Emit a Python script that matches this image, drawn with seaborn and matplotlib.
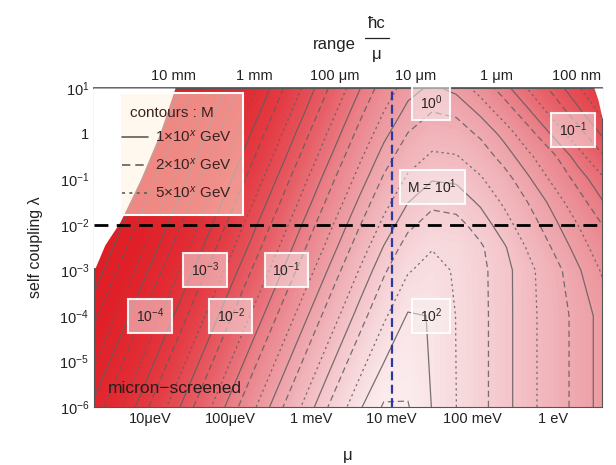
import numpy as np
import matplotlib
matplotlib.use("Agg")
import matplotlib.pyplot as plt
import seaborn as sns
from matplotlib.patches import Rectangle
from matplotlib.lines import Line2D

# grid nodes: log10(mu / eV) and log10(lambda)
log_mu = [-5.8, -4.6, -3.4, -2.8, -2.4, -2.1, -1.8, -1.5, -1.2, -0.9, -0.6, -0.3, 0.0, 0.3, 0.65]
log_lam = [-6, -4, -3, -2.5, -2, -1.5, -1, -0.5, 0, 0.5, 1]

# log10(M / GeV), one row per log_lam node
logM_rows = [
    [-4.11, -1.95, 0.21, 1.29, 1.96, 2.34, 2.32, 1.99, 1.70, 1.40, 1.10, 0.80, 0.50, 0.20, -0.15],
    [-4.97, -2.81, -0.65, 0.43, 1.14, 1.64, 2.03, 1.99, 1.69, 1.40, 1.10, 0.80, 0.50, 0.20, -0.15],
    [-5.40, -3.24, -1.08, 0.00, 0.72, 1.24, 1.67, 1.82, 1.66, 1.39, 1.10, 0.79, 0.45, 0.06, -0.39],
    [-5.62, -3.46, -1.30, -0.22, 0.50, 1.02, 1.46, 1.68, 1.59, 1.35, 1.03, 0.65, 0.27, -0.11, -0.56],
    [-5.83, -3.67, -1.51, -0.43, 0.28, 0.79, 1.22, 1.45, 1.41, 1.16, 0.83, 0.47, 0.09, -0.29, -0.75],
    [-6.05, -3.89, -1.73, -0.65, 0.06, 0.57, 0.99, 1.22, 1.17, 0.95, 0.64, 0.28, -0.10, -0.53, -1.03],
    [-6.26, -4.10, -1.94, -0.86, -0.16, 0.35, 0.76, 0.98, 0.95, 0.74, 0.44, 0.04, -0.38, -0.80, -1.30],
    [-6.48, -4.32, -2.16, -1.08, -0.37, 0.13, 0.53, 0.75, 0.72, 0.50, 0.16, -0.23, -0.63, -1.13, -1.72],
    [-6.69, -4.53, -2.37, -1.29, -0.59, -0.09, 0.31, 0.52, 0.47, 0.24, -0.11, -0.57, -1.06, -1.54, -2.11],
    [-6.91, -4.75, -2.59, -1.51, -0.80, -0.31, 0.09, 0.29, 0.23, -0.08, -0.50, -0.97, -1.45, -1.92, -2.46],
    [-7.12, -4.96, -2.80, -1.72, -1.02, -0.52, -0.12, 0.06, -0.09, -0.45, -0.89, -1.34, -1.80, -2.24, -2.76],
]

# excluded (white) corners
excl_left_mu = [-5.70, -5.68, -5.56, -5.37, -5.12, -4.88, -4.69]
excl_left_lam = [-2.94, -2.94, -2.44, -1.93, -1.01, 0.0, 1.0]
excl_right_mu = [0.509, 0.558, 0.61]
excl_right_lam = [1.0, 0.74, 0.34]

# axes ticks
mu_ticks = [-5, -4, -3, -2, -1, 0]
mu_labels = ["10μeV", "100μeV", "1 meV", "10 meV", "100 meV", "1 eV"]
range_m = [1e-2, 1e-3, 1e-4, 1e-5, 1e-6, 1e-7]
range_labels = ["10 mm", "1 mm", "100 μm", "10 μm", "1 μm", "100 nm"]
lam_ticks = [1, 0, -1, -2, -3, -4, -5, -6]
lam_labels = [r"$10^{1}$", "1", r"$10^{-1}$", r"$10^{-2}$", r"$10^{-3}$",
              r"$10^{-4}$", r"$10^{-5}$", r"$10^{-6}$"]

# in-plot contour labels
lab_text = [r"$10^{-4}$", r"$10^{-3}$", r"$10^{-2}$", r"$10^{-1}$", r"$10^{0}$",
            r"M = $10^{1}$", r"$10^{2}$", r"$10^{-1}$"]
lab_mu = [-5.0, -4.32, -4.0, -3.31, -1.51, -1.50, -1.51, 0.25]
lab_lam = [-4.0, -2.99, -4.0, -2.99, 0.67, -1.17, -4.0, 0.08]

HBARC = 1.97327e-7  # eV m

sns.set_theme(style="ticks")
plt.rcParams["font.family"] = ["Liberation Sans", "DejaVu Sans"]
plt.rcParams["mathtext.fontset"] = "custom"
plt.rcParams["mathtext.rm"] = "Liberation Sans"
plt.rcParams["mathtext.it"] = "Liberation Sans:italic"
plt.rcParams["mathtext.bf"] = "Liberation Sans:bold"

cmap = sns.blend_palette(["#df1c24", "#e02028", "#e22a32", "#e43e46", "#e7626a",
                          "#eb8c94", "#f0b2b8", "#f6d4d8", "#fcf2f3"], as_cmap=True)

U, V = np.meshgrid(log_mu, log_lam)
Z = np.array(logM_rows)

fig = plt.figure(figsize=(6.16, 4.65), dpi=100)
ax = fig.add_axes([94 / 616, 1 - 407 / 465, 508 / 616, 319 / 465])

cf = ax.contourf(U, V, Z, levels=np.linspace(-5.5, 2.5, 121), cmap=cmap, extend="both", zorder=1)
cf.set_edgecolor("face")
cf.set_linewidth(0.3)

line_col = (0.38, 0.36, 0.36)
decades = np.arange(-8, 3)
styles = [(0.0, "solid"), (np.log10(2), (0, (5, 3))), (np.log10(5), (0, (1.8, 2.6)))]
for off, ls in styles:
    cs = ax.contour(U, V, Z, levels=decades + off, colors=[line_col], linewidths=0.9, zorder=2)
    cs.set_linestyle(ls)
    cs.set_alpha(0.85)

# excluded regions
ax.fill_betweenx(excl_left_lam, -6, excl_left_mu, color="white", lw=0, zorder=3)
ax.fill_betweenx(excl_right_lam, excl_right_mu, 1, color="white", lw=0, zorder=3)

ax.axhline(-2, color="black", lw=2.0, ls=(0, (5, 3)), zorder=5)
ax.axvline(-2, color="#2b3aa0", lw=1.6, ls=(0, (4, 2)), zorder=5)

# legend box
ax.add_patch(Rectangle((-5.372, -1.785), 1.526, 2.675, fc=(1, 0.95, 0.88, 0.5),
                       ec="white", lw=1.5, zorder=4))
txt_col = "#3a2222"
ax.text(-4.73, 0.45, "contours : M", ha="center", va="center", fontsize=11, color=txt_col, zorder=6)
leg_rows = [-0.075, -0.689, -1.303]
leg_text = [r"1$\times$10$^{x}$ GeV", r"2$\times$10$^{x}$ GeV", r"5$\times$10$^{x}$ GeV"]
for yy, (off, ls), t in zip(leg_rows, styles, leg_text):
    ax.plot([-5.35, -5.03], [yy, yy], color=line_col, lw=1.2, ls=ls, zorder=6)
    ax.text(-4.94, yy, t, ha="left", va="center", fontsize=11, color=txt_col, zorder=6)

for t, xm, yl in zip(lab_text, lab_mu, lab_lam):
    ax.text(xm, yl, t, ha="center", va="center", fontsize=10, color="#2a2222", zorder=6,
            bbox=dict(boxstyle="square,pad=0.55", fc=(0.97, 0.95, 0.95, 0.5),
                      ec=(1, 1, 1, 0.9), lw=1.5))

ax.text(-5.53, -5.69, "micron\u2212screened", ha="left", va="baseline", fontsize=12.5,
        color="#2a1a1a", zorder=6)

ax.set_xlim(-5.695, 0.608)
ax.set_ylim(-6, 1)

minor_mu = [n + np.log10(k) for n in range(-6, 1) for k in range(2, 10)]
minor_lam = [n + np.log10(k) for n in range(-6, 1) for k in range(2, 10)]
ax.set_xticks(mu_ticks, mu_labels)
ax.set_xticks([m for m in minor_mu if -5.695 < m < 0.608], minor=True)
ax.set_yticks(lam_ticks, lam_labels)
ax.set_yticks(minor_lam, minor=True)

top = ax.secondary_xaxis("top")
top_ticks = [np.log10(HBARC / r) for r in range_m]
top_minor = [np.log10(HBARC / (k * 10.0 ** n)) for n in range(-8, -1) for k in range(2, 10)]
top.set_xticks(top_ticks, range_labels)
top.set_xticks([m for m in top_minor if -5.695 < m < 0.608], minor=True)

for a in (ax, top):
    a.tick_params(which="both", direction="in", colors="#444444", labelcolor="#222222",
                  labelsize=10.5, width=0.7)
    a.tick_params(which="major", length=5)
    a.tick_params(which="minor", length=2.5)
ax.tick_params(axis="y", which="both", right=True)
for s in ax.spines.values():
    s.set_color("#555555")
    s.set_linewidth(0.8)
top.spines["top"].set_color("#555555")

ax.set_xlabel("μ", fontsize=12, color="#222222", labelpad=16)
ax.set_ylabel("self coupling λ", fontsize=11.5, color="#222222", labelpad=12)

# top axis title: range = hbar c / mu, drawn as a stacked fraction
fig.text(334 / 616, 1 - 45 / 465, "range", ha="center", va="center", fontsize=12, color="#222222")
fig.text(377 / 616, 1 - 23 / 465, "ħc", ha="center", va="center", fontsize=12, color="#222222")
fig.text(377 / 616, 1 - 54 / 465, "μ", ha="center", va="center", fontsize=12, color="#222222")
fig.add_artist(Line2D([365 / 616, 389 / 616], [1 - 38 / 465, 1 - 38 / 465],
                      transform=fig.transFigure, color="#222222", lw=0.9))

fig.savefig("out.png", dpi=100)
